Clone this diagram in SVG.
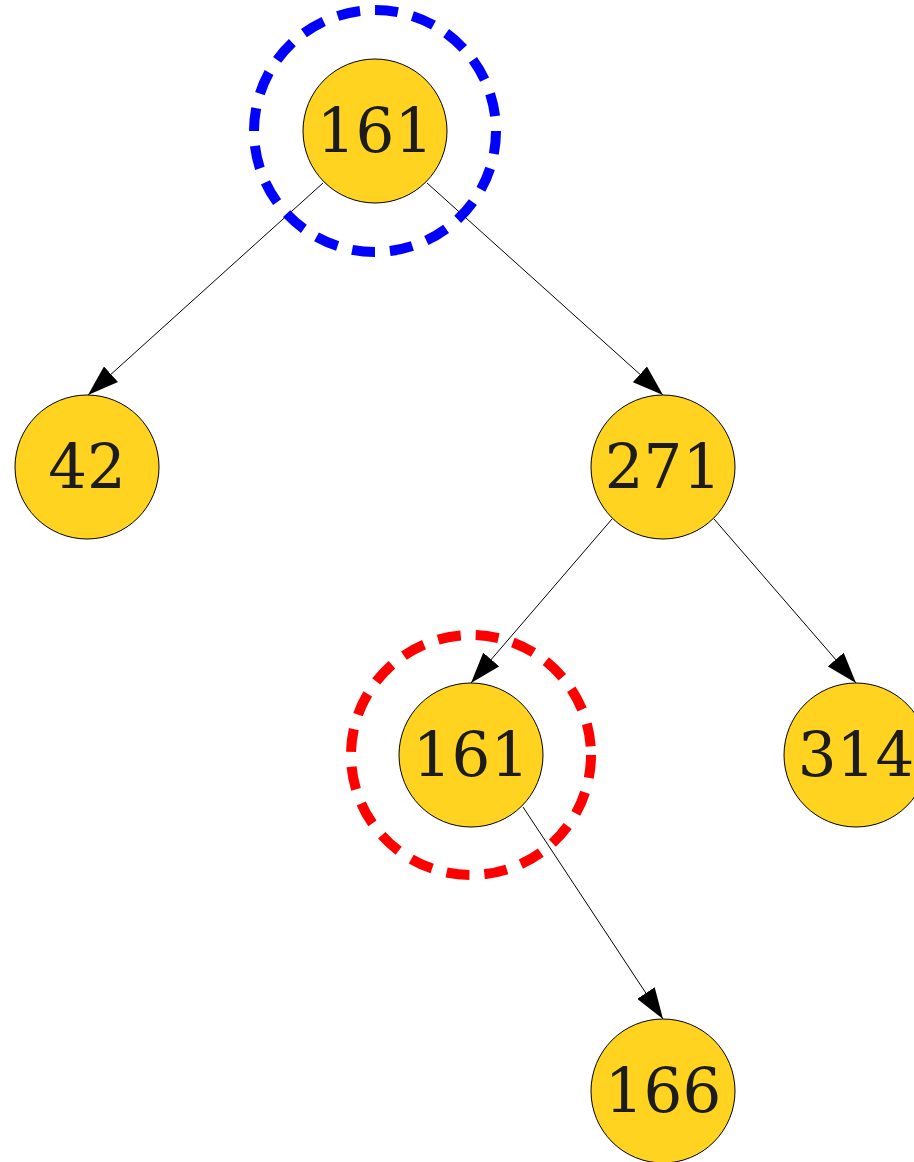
<svg xmlns="http://www.w3.org/2000/svg" width="914" height="1162" viewBox="0 0 914 1162">
<style>
.node circle{fill:#ffd320;stroke:#000;stroke-width:1}
.node text{font-family:"DejaVu Serif","Liberation Serif",serif;font-size:61px;fill:#1c1c1c;text-anchor:middle}
.edge{stroke:#000;stroke-width:1;fill:none;marker-end:url(#arr)}
.ring{fill:none;stroke-width:10;stroke-dasharray:23 15}
</style>
<defs>
<marker id="arr" markerUnits="userSpaceOnUse" viewBox="0 0 31 21" refX="31" refY="10.5" markerWidth="31" markerHeight="21" orient="auto">
<path d="M0,0 L31,10.5 L0,21 z" fill="#000"/>
</marker>
</defs>
<rect width="914" height="1162" fill="#fff"/>
<g id="connectors">
<line class="edge" x1="323" y1="183" x2="88" y2="395"/>
<line class="edge" x1="427" y1="183" x2="663" y2="395"/>
<line class="edge" x1="612" y1="519" x2="471" y2="683"/>
<line class="edge" x1="714" y1="519" x2="856" y2="683"/>
<line class="edge" x1="523" y1="807" x2="663" y2="1019"/>
</g>
<g id="n161root" class="node"><circle cx="375" cy="131" r="72"/><text x="375" y="152">161</text></g>
<g id="n42" class="node"><circle cx="87" cy="467" r="72"/><text x="87" y="488">42</text></g>
<g id="n271" class="node"><circle cx="663" cy="467" r="72"/><text x="663" y="488">271</text></g>
<g id="n161" class="node"><circle cx="471" cy="755" r="72"/><text x="471" y="776">161</text></g>
<g id="n314" class="node"><circle cx="856" cy="755" r="72"/><text x="856" y="776">314</text></g>
<g id="n166" class="node"><circle cx="663" cy="1091" r="72"/><text x="663" y="1112">166</text></g>
<g id="highlights">
<circle class="ring" cx="375" cy="131" r="121" stroke="#0000ff"/>
<circle class="ring" cx="471" cy="755" r="120" stroke="#ff0000"/>
</g>
</svg>
